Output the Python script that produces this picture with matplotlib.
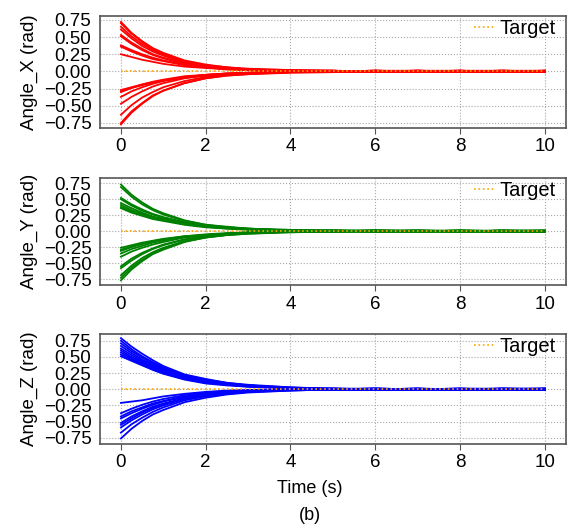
import matplotlib
matplotlib.use("Agg")
import matplotlib.pyplot as plt

plt.rcParams['font.family'] = ['Liberation Sans', 'DejaVu Sans']

# sample times (s)
t = [0, 0.25, 0.5, 0.75, 1, 1.5, 2, 2.5, 3, 4, 5, 6, 7, 8, 9, 10]

angle_x = [
    [0.72, 0.56, 0.44, 0.34, 0.27, 0.16, 0.10, 0.06, 0.04, 0.02, 0.01, 0.00, 0.01, -0.01, 0.01, 0.00],
    [0.70, 0.55, 0.43, 0.33, 0.26, 0.15, 0.09, 0.06, 0.03, 0.01, 0.00, 0.01, -0.01, 0.00, 0.01, 0.01],
    [0.65, 0.51, 0.40, 0.31, 0.24, 0.14, 0.09, 0.05, 0.03, 0.02, 0.01, -0.01, 0.00, 0.01, -0.01, 0.00],
    [0.61, 0.48, 0.37, 0.29, 0.23, 0.13, 0.08, 0.05, 0.03, 0.01, -0.01, 0.01, 0.01, 0.00, 0.00, 0.01],
    [0.53, 0.42, 0.33, 0.25, 0.20, 0.12, 0.07, 0.04, 0.03, 0.01, 0.01, 0.00, -0.01, 0.01, 0.01, -0.01],
    [0.51, 0.40, 0.31, 0.24, 0.19, 0.11, 0.07, 0.04, 0.02, 0.01, 0.00, 0.01, 0.00, -0.01, 0.00, 0.01],
    [0.38, 0.31, 0.25, 0.20, 0.16, 0.10, 0.06, 0.04, 0.02, 0.01, 0.01, -0.01, 0.01, 0.00, 0.01, 0.00],
    [0.36, 0.29, 0.23, 0.18, 0.15, 0.09, 0.06, 0.03, 0.02, 0.00, 0.00, 0.01, 0.00, 0.01, -0.01, 0.01],
    [0.25, 0.21, 0.17, 0.14, 0.11, 0.07, 0.05, 0.03, 0.02, 0.01, 0.00, 0.00, 0.01, 0.01, 0.00, -0.01],
    [-0.27, -0.23, -0.19, -0.16, -0.13, -0.09, -0.06, -0.04, -0.02, -0.01, 0.00, -0.01, 0.00, 0.01, -0.01, 0.00],
    [-0.29, -0.24, -0.20, -0.16, -0.13, -0.08, -0.05, -0.03, -0.02, -0.01, -0.01, 0.00, 0.01, -0.01, 0.00, -0.01],
    [-0.30, -0.24, -0.19, -0.15, -0.12, -0.07, -0.05, -0.03, -0.02, 0.00, 0.01, -0.01, -0.01, 0.00, 0.01, 0.00],
    [-0.37, -0.29, -0.23, -0.18, -0.14, -0.09, -0.05, -0.03, -0.02, -0.01, 0.00, 0.01, 0.00, -0.01, -0.01, 0.01],
    [-0.47, -0.37, -0.29, -0.22, -0.17, -0.10, -0.06, -0.04, -0.02, -0.01, -0.01, 0.00, 0.01, 0.00, 0.00, -0.01],
    [-0.63, -0.49, -0.38, -0.30, -0.23, -0.14, -0.08, -0.05, -0.03, -0.01, 0.00, -0.01, 0.00, 0.01, -0.01, 0.00],
    [-0.75, -0.58, -0.46, -0.35, -0.28, -0.17, -0.10, -0.06, -0.04, -0.02, -0.01, 0.00, -0.01, 0.00, 0.01, 0.00],
    [-0.77, -0.60, -0.47, -0.36, -0.28, -0.17, -0.10, -0.06, -0.04, -0.01, 0.00, 0.01, 0.00, -0.01, 0.00, -0.01],
]

angle_y = [
    [0.73, 0.57, 0.45, 0.35, 0.28, 0.17, 0.10, 0.07, 0.04, 0.02, 0.01, 0.00, 0.01, 0.00, 0.01, -0.01],
    [0.69, 0.54, 0.42, 0.33, 0.26, 0.16, 0.10, 0.06, 0.04, 0.01, 0.00, 0.01, 0.00, -0.01, 0.01, 0.00],
    [0.52, 0.42, 0.34, 0.27, 0.22, 0.14, 0.09, 0.06, 0.04, 0.01, 0.01, -0.01, 0.00, 0.01, 0.00, 0.01],
    [0.50, 0.40, 0.32, 0.26, 0.21, 0.13, 0.08, 0.05, 0.03, 0.02, 0.00, 0.01, 0.01, 0.00, -0.01, 0.00],
    [0.44, 0.36, 0.29, 0.23, 0.19, 0.12, 0.08, 0.05, 0.03, 0.01, 0.01, 0.00, -0.01, 0.01, 0.00, 0.00],
    [0.41, 0.33, 0.27, 0.22, 0.18, 0.11, 0.07, 0.05, 0.03, 0.01, -0.01, 0.01, 0.00, 0.00, 0.01, 0.01],
    [0.38, 0.31, 0.25, 0.20, 0.17, 0.11, 0.07, 0.04, 0.03, 0.01, 0.00, 0.00, 0.01, -0.01, 0.00, 0.01],
    [0.36, 0.29, 0.24, 0.19, 0.16, 0.10, 0.06, 0.04, 0.02, 0.01, 0.01, 0.01, 0.00, 0.00, -0.01, 0.00],
    [-0.26, -0.22, -0.18, -0.15, -0.12, -0.08, -0.05, -0.03, -0.02, -0.01, 0.00, -0.01, 0.01, 0.00, -0.01, 0.00],
    [-0.29, -0.24, -0.20, -0.16, -0.13, -0.08, -0.06, -0.04, -0.02, -0.01, -0.01, 0.00, 0.00, -0.01, 0.01, 0.00],
    [-0.31, -0.25, -0.20, -0.16, -0.13, -0.09, -0.06, -0.04, -0.02, 0.00, 0.01, 0.00, -0.01, 0.00, 0.00, -0.01],
    [-0.35, -0.28, -0.23, -0.18, -0.15, -0.09, -0.06, -0.04, -0.02, -0.01, 0.00, 0.01, 0.00, 0.01, -0.01, 0.00],
    [-0.40, -0.32, -0.26, -0.21, -0.17, -0.10, -0.06, -0.04, -0.02, -0.01, -0.01, 0.00, 0.01, 0.00, 0.00, -0.01],
    [-0.55, -0.43, -0.34, -0.27, -0.21, -0.13, -0.08, -0.05, -0.03, -0.01, 0.00, -0.01, 0.00, -0.01, 0.01, 0.00],
    [-0.58, -0.46, -0.36, -0.28, -0.22, -0.13, -0.08, -0.05, -0.03, -0.01, 0.00, 0.00, -0.01, 0.01, 0.00, -0.01],
    [-0.69, -0.54, -0.42, -0.33, -0.26, -0.16, -0.09, -0.06, -0.03, -0.01, -0.01, 0.01, 0.00, 0.00, -0.01, 0.00],
    [-0.73, -0.57, -0.45, -0.35, -0.27, -0.16, -0.10, -0.06, -0.04, -0.02, 0.00, -0.01, 0.00, 0.01, 0.00, 0.01],
    [-0.77, -0.60, -0.47, -0.36, -0.29, -0.17, -0.10, -0.06, -0.04, -0.01, 0.01, 0.00, -0.01, 0.00, 0.00, -0.01],
]

angle_z = [
    [0.79, 0.66, 0.55, 0.45, 0.36, 0.23, 0.16, 0.10, 0.07, 0.03, 0.01, 0.00, 0.01, -0.01, 0.01, 0.00],
    [0.75, 0.62, 0.51, 0.42, 0.34, 0.22, 0.15, 0.10, 0.06, 0.02, 0.00, 0.01, 0.00, 0.01, -0.01, 0.01],
    [0.71, 0.59, 0.49, 0.40, 0.32, 0.21, 0.14, 0.09, 0.06, 0.02, 0.01, -0.01, 0.01, 0.00, 0.00, 0.01],
    [0.67, 0.56, 0.46, 0.38, 0.31, 0.20, 0.13, 0.09, 0.06, 0.03, 0.00, 0.01, 0.00, 0.00, 0.01, -0.01],
    [0.63, 0.53, 0.44, 0.36, 0.29, 0.19, 0.13, 0.08, 0.05, 0.02, 0.01, 0.00, -0.01, 0.01, 0.00, 0.00],
    [0.60, 0.50, 0.42, 0.34, 0.28, 0.18, 0.12, 0.08, 0.05, 0.02, -0.01, 0.01, 0.00, 0.00, 0.01, 0.01],
    [0.57, 0.48, 0.40, 0.33, 0.27, 0.17, 0.11, 0.07, 0.05, 0.02, 0.00, 0.00, 0.01, -0.01, 0.00, 0.00],
    [0.54, 0.46, 0.38, 0.31, 0.25, 0.16, 0.10, 0.07, 0.04, 0.01, 0.01, 0.01, 0.00, 0.00, -0.01, 0.01],
    [0.51, 0.44, 0.37, 0.30, 0.24, 0.15, 0.09, 0.06, 0.04, 0.02, 0.00, -0.01, 0.00, 0.01, 0.01, 0.00],
    [-0.21, -0.19, -0.17, -0.14, -0.11, -0.07, -0.04, -0.02, -0.01, 0.00, 0.00, -0.01, 0.00, 0.01, -0.01, 0.00],
    [-0.37, -0.30, -0.24, -0.19, -0.15, -0.09, -0.05, -0.03, -0.02, -0.01, -0.01, 0.00, 0.01, 0.00, 0.00, -0.01],
    [-0.42, -0.34, -0.28, -0.22, -0.18, -0.11, -0.07, -0.04, -0.02, -0.01, 0.00, 0.01, 0.00, -0.01, 0.01, 0.00],
    [-0.45, -0.37, -0.30, -0.24, -0.19, -0.12, -0.07, -0.04, -0.03, -0.01, 0.01, 0.00, -0.01, 0.00, 0.00, -0.01],
    [-0.52, -0.42, -0.34, -0.27, -0.22, -0.14, -0.08, -0.05, -0.03, -0.01, 0.00, -0.01, 0.00, 0.01, -0.01, 0.00],
    [-0.55, -0.45, -0.36, -0.29, -0.23, -0.14, -0.09, -0.05, -0.03, -0.01, -0.01, 0.00, 0.00, -0.01, 0.01, 0.01],
    [-0.59, -0.48, -0.39, -0.31, -0.25, -0.15, -0.09, -0.06, -0.04, -0.02, 0.00, 0.01, -0.01, 0.00, 0.00, -0.01],
    [-0.67, -0.54, -0.44, -0.35, -0.28, -0.17, -0.11, -0.07, -0.04, -0.01, 0.01, -0.01, 0.00, 0.00, -0.01, 0.00],
    [-0.76, -0.61, -0.49, -0.39, -0.32, -0.20, -0.13, -0.08, -0.05, -0.02, 0.00, 0.00, 0.01, -0.01, 0.00, 0.01],
]

target_t = [0, 10]
target = [0, 0]

panels = [
    (angle_x, 'red', 'Angle_X (rad)', [0.175, 0.758, 0.818, 0.212], (-0.823, 0.808)),
    (angle_y, 'green', 'Angle_Y (rad)', [0.175, 0.461, 0.818, 0.202], (-0.845, 0.828)),
    (angle_z, 'blue', 'Angle_Z (rad)', [0.175, 0.161, 0.818, 0.208], (-0.843, 0.858)),
]

fig = plt.figure(figsize=(5.7, 5.29), dpi=100)

for curves, col, label, pos, ylim in panels:
    ax = fig.add_axes(pos)
    for c in curves:
        ax.plot(t, c, color=col, linewidth=1.3)
    ax.plot(target_t, target, color='orange', linestyle=':', linewidth=1.2,
            label='Target', zorder=5)
    ax.set_xlim(-0.5, 10.5)
    ax.set_ylim(*ylim)
    ax.set_xticks([0, 2, 4, 6, 8, 10])
    ax.set_yticks([-0.75, -0.5, -0.25, 0, 0.25, 0.5, 0.75])
    ax.grid(True, color='#a8a8a8', linestyle=':', linewidth=0.8)
    ax.tick_params(axis='x', direction='out', length=4, labelsize=13.5, color='#555555')
    ax.tick_params(axis='y', length=0, pad=6, labelsize=13.5)
    for s in ax.spines.values():
        s.set_color('#555555')
        s.set_linewidth(1.2)
    ax.set_ylabel(label, fontsize=13.5, labelpad=4)
    ax.legend(loc='upper right', bbox_to_anchor=(0.983, 0.99), frameon=False,
              fontsize=14.5, handlelength=1.1, handletextpad=0.2,
              borderaxespad=0.0, borderpad=0.1)

ax.set_xlabel('Time (s)', fontsize=13, labelpad=2)
ax.xaxis.set_label_coords(0.45, -0.33)
fig.text(0.544, 0.026, '(b)', ha='center', va='center', fontsize=13)

fig.savefig('out.png', dpi=100)
